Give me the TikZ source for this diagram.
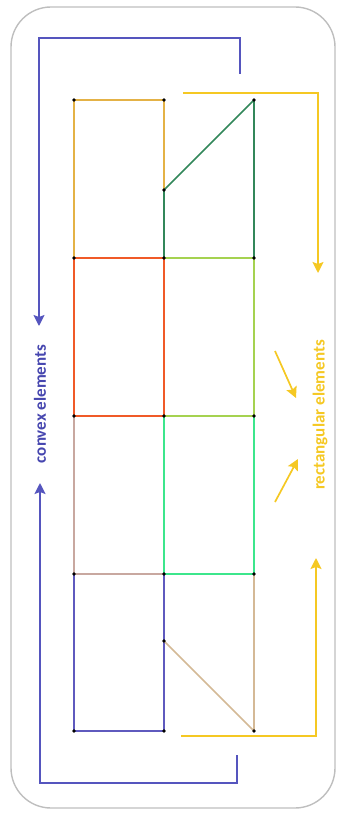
\documentclass[tikz,border=0pt]{standalone}
\usepackage{fontspec}
\setmainfont{Carlito}
\usetikzlibrary{arrows.meta}
\definecolor{frame}{RGB}{190,190,190}
\definecolor{cblue}{RGB}{85,85,190}
\definecolor{ctext}{RGB}{70,70,175}
\definecolor{cyell}{RGB}{245,200,35}
\definecolor{cgold}{RGB}{228,178,70}
\definecolor{cdgreen}{RGB}{50,135,90}
\definecolor{cred}{RGB}{240,90,40}
\definecolor{cygreen}{RGB}{165,210,80}
\definecolor{cmauve}{RGB}{200,168,160}
\definecolor{cspring}{RGB}{60,230,140}
\definecolor{cpblue}{RGB}{95,90,190}
\definecolor{ctan}{RGB}{212,185,150}
\tikzset{
  edge/.style={line width=1.6pt, line join=round},
  bracket/.style={line width=1.7pt, cblue, -{Stealth[length=11pt,width=11pt,inset=2pt]}},
  ybracket/.style={line width=1.7pt, cyell, -{Stealth[length=11pt,width=11pt,inset=2pt]}},
  vdot/.style={circle, fill=black, inner sep=0pt, minimum size=3.8pt},
  lbl/.style={rotate=90, font=\bfseries\fontsize{17}{19}\selectfont}
}
\begin{document}
\begin{tikzpicture}[x=1pt,y=-1pt]
\useasboundingbox (0,0) rectangle (341,818);
\draw[frame, line width=1.4pt, rounded corners=40pt] (11,7) rectangle (335,808);
% vertices
\coordinate (a1) at (74,100); \coordinate (b1) at (164,100); \coordinate (c1) at (254,100);
\coordinate (bm1) at (164,190);
\coordinate (a2) at (74,258); \coordinate (b2) at (164,258); \coordinate (c2) at (254,258);
\coordinate (a3) at (74,416); \coordinate (b3) at (164,416); \coordinate (c3) at (254,416);
\coordinate (a4) at (74,574); \coordinate (b4) at (164,574); \coordinate (c4) at (254,574);
\coordinate (bm4) at (164,641);
\coordinate (a5) at (74,731); \coordinate (b5) at (164,731); \coordinate (c5) at (254,731);
% elements
\draw[edge, cgold] (a1) -- (b1) -- (b2) -- (a2) -- cycle;
\draw[edge, cdgreen] (bm1) -- (c1) -- (c2) -- (b2) -- cycle;
\draw[edge, cpblue] (a4) -- (b4) -- (b5) -- (a5) -- cycle;
\draw[edge, ctan] (b4) -- (c4) -- (c5) -- (bm4);
\draw[edge, cmauve] (a3) -- (b3) -- (b4) -- (a4) -- cycle;
\draw[edge, cspring] (b3) -- (c3) -- (c4) -- (b4) -- cycle;
\draw[edge, cygreen] (b2) -- (c2) -- (c3) -- (b3) -- cycle;
\draw[edge, cred] (a2) -- (b2) -- (b3) -- (a3) -- cycle;
\foreach \p in {a1,b1,c1,bm1,a2,b2,c2,a3,b3,c3,a4,b4,c4,bm4,a5,b5,c5}
  \node[vdot] (d\p) at (\p) {};
% convex brackets
\coordinate (bt0) at (240,74);
\coordinate (bt1) at (39,326);
\draw[bracket] (bt0) |- (39,38) -- (bt1);
\coordinate (bb0) at (237,755);
\coordinate (bb1) at (40,483);
\draw[bracket] (bb0) |- (40,783) -- (bb1);
\node[lbl, text=ctext] (convex) at (40,404) {convex elements};
% rectangular brackets
\coordinate (yt0) at (183,93);
\coordinate (yt1) at (318,273);
\draw[ybracket] (yt0) -| (yt1);
\coordinate (yb0) at (181,736);
\coordinate (yb1) at (316,558);
\draw[ybracket] (yb0) -| (yb1);
\coordinate (ya0) at (275,351); \coordinate (ya1) at (296,398);
\coordinate (yc0) at (275,502); \coordinate (yc1) at (298,459);
\draw[ybracket] (ya0) -- (ya1);
\draw[ybracket] (yc0) -- (yc1);
\node[lbl, text=cyell] (rect) at (320,415) {rectangular elements};
\end{tikzpicture}
\end{document}
